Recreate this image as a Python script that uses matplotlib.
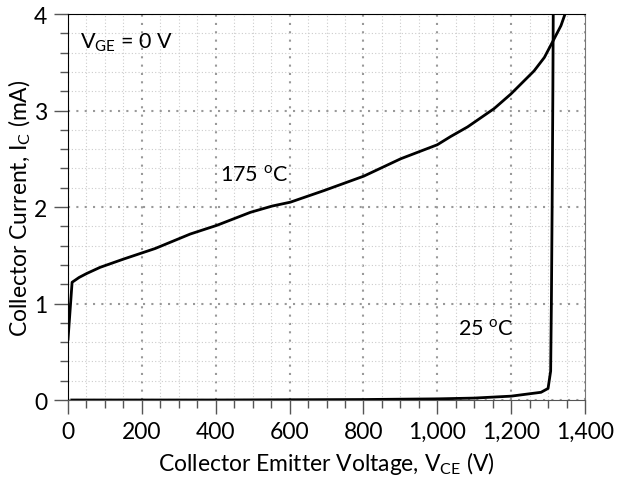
import matplotlib.pyplot as plt
from matplotlib.ticker import MultipleLocator, FuncFormatter

plt.rcParams['font.family'] = ['Lato', 'DejaVu Sans']
plt.rcParams['mathtext.fontset'] = 'custom'
plt.rcParams['mathtext.rm'] = 'Lato'

# 175 C curve (V, mA)
v_175 = [0, 11, 30, 50, 87, 150, 236, 331, 403, 494, 553, 602, 693, 801, 901,
         1000, 1036, 1082, 1154, 1199, 1262, 1290, 1312, 1335, 1346]
i_175 = [0.63, 1.22, 1.27, 1.31, 1.375, 1.46, 1.57, 1.72, 1.81, 1.945, 2.01, 2.05, 2.17, 2.32, 2.50,
         2.645, 2.73, 2.83, 3.02, 3.17, 3.41, 3.55, 3.71, 3.88, 4.0]

# 25 C curve (V, mA)
v_25 = [10, 400, 800, 1000, 1100, 1200, 1281, 1300, 1307, 1309, 1311, 1313, 1314]
i_25 = [0.0, 0.0, 0.005, 0.012, 0.02, 0.04, 0.08, 0.12, 0.3, 1.0, 2.0, 3.2, 4.0]

fig = plt.figure(figsize=(6.27, 4.81), dpi=100)
ax = fig.add_axes([0.1085, 0.1663, 0.8245, 0.8025])

ax.plot(v_175, i_175, color='black', lw=2, solid_joinstyle='round')
ax.plot(v_25, i_25, color='black', lw=2, solid_joinstyle='round')

ax.set_xlim(0, 1400)
ax.set_ylim(0, 4)
ax.xaxis.set_major_locator(MultipleLocator(200))
ax.xaxis.set_minor_locator(MultipleLocator(50))
ax.yaxis.set_major_locator(MultipleLocator(1))
ax.yaxis.set_minor_locator(MultipleLocator(0.2))
ax.xaxis.set_major_formatter(FuncFormatter(lambda v, p: f'{int(v):,}'))

ax.grid(which='minor', color='#cccccc', ls=(0, (1, 2)), lw=0.8)
ax.grid(which='major', color='#999999', ls=(0, (1, 3)), lw=1.5)
ax.set_axisbelow(True)

ax.tick_params(which='major', direction='out', length=10, width=1, color='#555555',
               labelsize=16.5, pad=5)
ax.tick_params(which='minor', direction='out', length=6, width=1, color='#555555')

ax.spines['left'].set_color('black')
ax.spines['top'].set_color('black')
ax.spines['bottom'].set_color('#555555')
ax.spines['right'].set_color('#777777')

ax.set_xlabel('Collector Emitter Voltage, V$_{\\mathregular{CE}}$ (V)', fontsize=16.5, labelpad=5)
ax.set_ylabel('Collector Current, I$_{\\mathregular{C}}$ (mA)', fontsize=16.5, labelpad=1)

ax.text(33, 3.71, 'V$_{\\mathregular{GE}}$ = 0 V', fontsize=15.5, va='center')
ax.text(412, 2.34, '175 $^{\\mathregular{o}}$C', fontsize=15.5, va='center')
ax.text(1055, 0.74, '25 $^{\\mathregular{o}}$C', fontsize=15.5, va='center')

fig.savefig('out.png', dpi=100)
